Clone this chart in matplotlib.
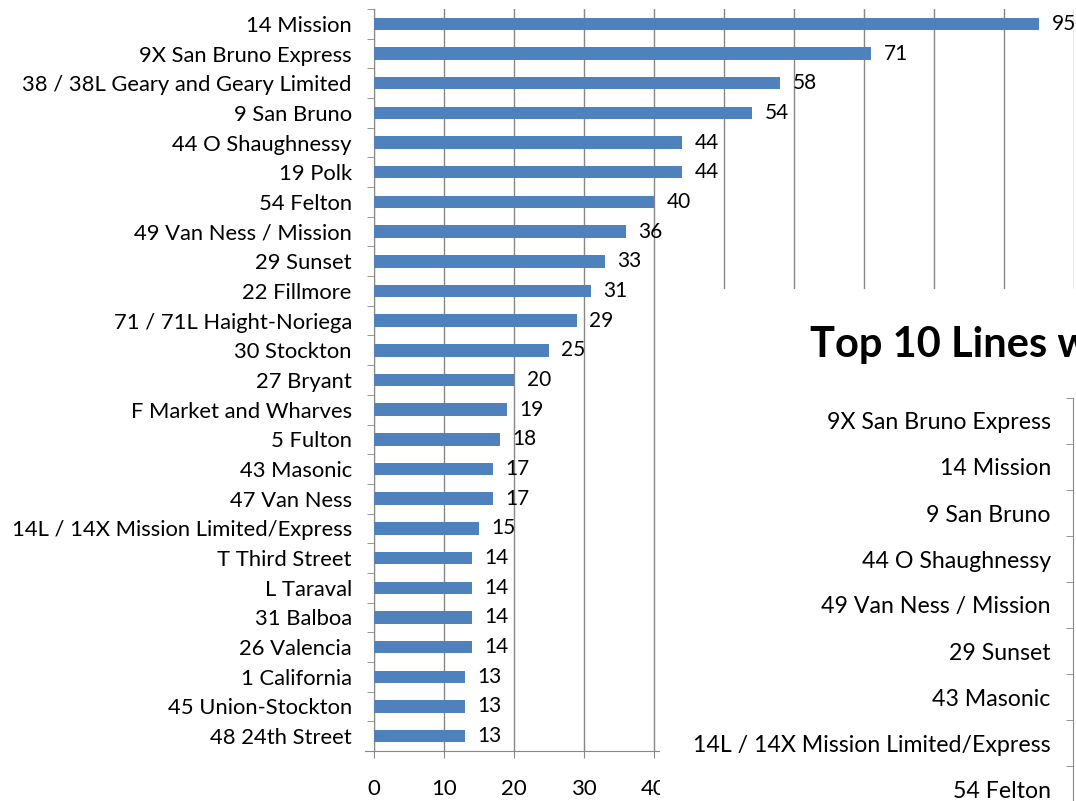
import matplotlib
matplotlib.use("Agg")
import matplotlib.pyplot as plt
from matplotlib.ticker import FixedLocator

# incidents per line, largest first
lines = [
    "14 Mission", "9X San Bruno Express", "38 / 38L Geary and Geary Limited",
    "9 San Bruno", "44 O Shaughnessy", "19 Polk", "54 Felton",
    "49 Van Ness / Mission", "29 Sunset", "22 Fillmore",
    "71 / 71L Haight-Noriega", "30 Stockton", "27 Bryant",
    "F Market and Wharves", "5 Fulton", "43 Masonic", "47 Van Ness",
    "14L / 14X Mission Limited/Express", "T Third Street", "L Taraval",
    "31 Balboa", "26 Valencia", "1 California", "45 Union-Stockton",
    "48 24th Street",
]
counts = [95, 71, 58, 54, 44, 44, 40, 36, 33, 31, 29, 25, 20, 19, 18,
          17, 17, 15, 14, 14, 14, 14, 13, 13, 13]
x_ticks = [0, 10, 20, 30, 40, 50, 60, 70, 80, 90, 100]

# second chart (only its labels show)
top10_title = "Top 10 Lines w"
top10_lines = [
    "9X San Bruno Express", "14 Mission", "9 San Bruno", "44 O Shaughnessy",
    "49 Van Ness / Mission", "29 Sunset", "43 Masonic",
    "14L / 14X Mission Limited/Express", "54 Felton",
]
top10_rows = 10

plt.rcParams["font.family"] = ["Lato", "DejaVu Sans"]

W, H = 1076, 801
fig = plt.figure(figsize=(W / 100, H / 100), dpi=100)

BLUE = "#4F81BD"
GRID = "#878787"

# main chart ------------------------------
ax = fig.add_axes([374 / W, (H - 751) / H, (1074 - 374) / W, (751 - 9) / H])
y = range(len(lines))
bars = ax.barh(y, counts, height=0.42, color=BLUE, zorder=3)
ax.bar_label(bars, labels=[str(c) for c in counts], padding=9, fontsize=15)

ax.set_xlim(0, 100)
ax.set_ylim(len(lines) - 0.5, -0.5)
ax.set_yticks(list(y))
ax.set_yticklabels(lines, fontsize=15.8)
ax.yaxis.set_minor_locator(FixedLocator([i - 0.5 for i in range(len(lines) + 1)]))
ax.tick_params(axis="y", which="major", length=0, pad=16)
ax.tick_params(axis="y", which="minor", length=5, color=GRID, direction="out")

# only the left part of the x scale stays visible
ax.set_xticks(x_ticks)
ax.set_xticklabels([str(t) if t <= 40 else "" for t in x_ticks])
ax.tick_params(axis="x", length=5, color=GRID, pad=15.5, labelsize=16)
ax.grid(axis="x", color=GRID, linewidth=1, zorder=0)
ax.set_axisbelow(True)

for side in ["top", "right"]:
    ax.spines[side].set_visible(False)
for side in ["left", "bottom"]:
    ax.spines[side].set_color(GRID)
ax.spines["bottom"].set_bounds(-1.3, 100)

# second chart sitting on top --------------
cover = fig.add_axes([660 / W, 0, (W - 660) / W, (H - 289) / H])
cover.set_facecolor("white")
cover.set_xticks([])
cover.set_yticks([])
for s in cover.spines.values():
    s.set_visible(False)
fig.text(810 / W, (H - 345) / H, top10_title, fontsize=30, fontweight="bold",
         va="center", ha="left")

ax2 = fig.add_axes([1073 / W, (H - 858) / H, 0.4, 460 / H])
ax2.set_facecolor("white")
ax2.set_xlim(0, 1)
ax2.set_ylim(top10_rows - 0.5, -0.5)
ax2.set_yticks(range(len(top10_lines)))
ax2.set_yticklabels(top10_lines, fontsize=16.7)
ax2.yaxis.set_minor_locator(FixedLocator([i - 0.5 for i in range(top10_rows + 1)]))
ax2.tick_params(axis="y", which="major", length=0, pad=16)
ax2.tick_params(axis="y", which="minor", length=5, color=GRID, direction="out")
ax2.set_xticks([])
for side in ["top", "right", "bottom"]:
    ax2.spines[side].set_visible(False)
ax2.spines["left"].set_color(GRID)

fig.savefig("out.png", dpi=100)
